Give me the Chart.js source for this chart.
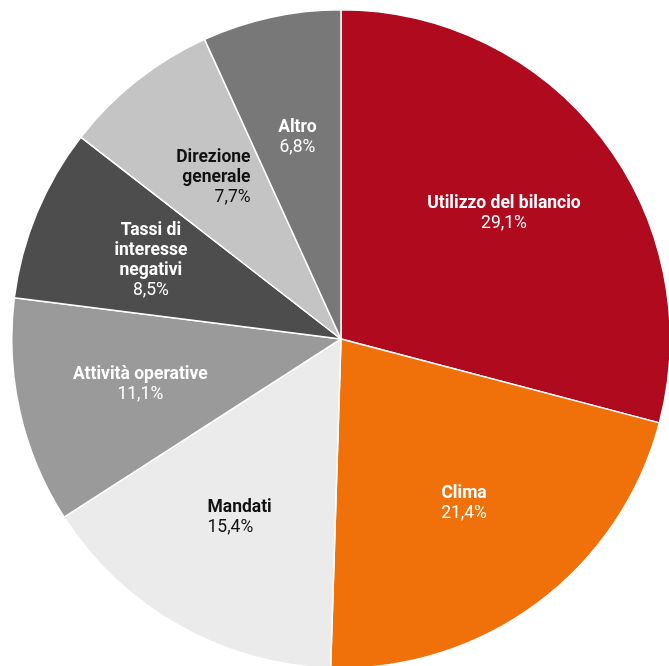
<!DOCTYPE html>
<html>
<head>
<meta charset="utf-8">
<script src="https://cdn.jsdelivr.net/npm/chart.js@4"></script>
<style>
  html, body { margin: 0; padding: 0; background: #fff; overflow: hidden; }
  body { width: 669px; height: 666px; position: relative; }
  #wrap { position: absolute; left: 11px; top: 9px; width: 660px; height: 660px; }
</style>
</head>
<body>
<div id="wrap"><canvas id="myChart"></canvas></div>
<script>
    "use strict";

    // categories (lines of the label) and shares in percent
    const labels = [
        ['Utilizzo del bilancio'],
        ['Clima'],
        ['Mandati'],
        ['Attività operative'],
        ['Tassi di', 'interesse', 'negativi'],
        ['Direzione', 'generale'],
        ['Altro']
    ];
    const values = [29.1, 21.4, 15.4, 11.1, 8.5, 7.7, 6.8];
    const colors = ['#af0a1e', '#f0700a', '#ebebeb', '#9a9a9a', '#4d4d4d', '#c4c4c4', '#787878'];
    const textColors = ['#fff', '#fff', '#111', '#fff', '#fff', '#111', '#fff'];
    const textAlign = ['center', 'center', 'left', 'center', 'center', 'right', 'center'];

    /* labels inside the slices */
    const sliceLabels = {
        id: 'sliceLabels',
        afterDatasetsDraw(chart) {
            const ctx = chart.ctx;
            const meta = chart.getDatasetMeta(0);
            const lh = 20;
            const size = '17.5px Roboto';
            meta.data.forEach(function (arc, i) {
                const p = arc.getProps(['x', 'y', 'startAngle', 'endAngle', 'outerRadius']);
                const mid = (p.startAngle + p.endAngle) / 2;
                const r = p.outerRadius * 0.625;
                const cx = p.x + Math.cos(mid) * r;
                const cy = p.y + Math.sin(mid) * r;
                const name = labels[i];
                const val = values[i].toFixed(1).replace('.', ',') + '%';
                const lines = name.map(function (t) { return { t: t, bold: true }; });
                lines.push({ t: val, bold: false });

                ctx.save();
                let w = 0;
                lines.forEach(function (l) {
                    ctx.font = (l.bold ? 'bold ' : '') + size;
                    l.w = ctx.measureText(l.t).width;
                    w = Math.max(w, l.w);
                });
                const top = cy - (lines.length - 1) * lh / 2;
                ctx.fillStyle = textColors[i];
                ctx.textBaseline = 'middle';
                lines.forEach(function (l, k) {
                    ctx.font = (l.bold ? 'bold ' : '') + size;
                    let x;
                    if (textAlign[i] === 'left') x = cx - w / 2;
                    else if (textAlign[i] === 'right') x = cx + w / 2 - l.w;
                    else x = cx - l.w / 2;
                    ctx.textAlign = 'left';
                    ctx.fillText(l.t, x, top + k * lh);
                });
                ctx.restore();
            });
        }
    };

    const ctx = document.getElementById('myChart').getContext('2d');
    const chart = new Chart(ctx, {
        type: 'pie',
        data: {
            labels: labels.map(function (l) { return l.join(' '); }),
            datasets: [{
                data: values,
                backgroundColor: colors,
                borderColor: '#fff',
                borderWidth: 1.5
            }]
        },
        options: {
            responsive: true,
            maintainAspectRatio: false,
            animation: false,
            layout: { padding: 0 },
            plugins: {
                legend: { display: false },
                tooltip: { enabled: false }
            }
        },
        plugins: [sliceLabels]
    });
</script>
</body>
</html>
